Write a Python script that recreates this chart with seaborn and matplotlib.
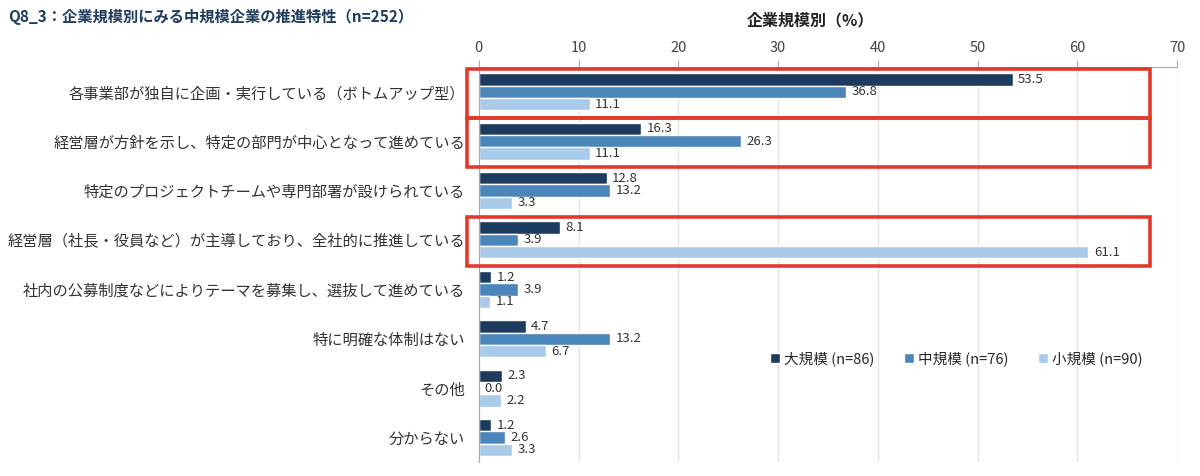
import pandas as pd
import matplotlib.pyplot as plt
import matplotlib.patches as patches
import matplotlib.transforms as mtransforms
import seaborn as sns

# データ
categories = [
    '各事業部が独自に企画・実行している（ボトムアップ型）',
    '経営層が方針を示し、特定の部門が中心となって進めている',
    '特定のプロジェクトチームや専門部署が設けられている',
    '経営層（社長・役員など）が主導しており、全社的に推進している',
    '社内の公募制度などによりテーマを募集し、選抜して進めている',
    '特に明確な体制はない',
    'その他',
    '分からない',
]
series_names = ['大規模 (n=86)', '中規模 (n=76)', '小規模 (n=90)']
large = [53.5, 16.3, 12.8, 8.1, 1.2, 4.7, 2.3, 1.2]
medium = [36.8, 26.3, 13.2, 3.9, 3.9, 13.2, 0.0, 2.6]
small = [11.1, 11.1, 3.3, 61.1, 1.1, 6.7, 2.2, 3.3]
highlight = [0, 1, 3]

colors = ['#1d3a5f', '#4b86bb', '#a9cbe9']

rows = []
for name, vals in zip(series_names, [large, medium, small]):
    for c, v in zip(categories, vals):
        rows.append({'項目': c, '規模': name, '値': v})
df = pd.DataFrame(rows)

sns.set_style('white')
plt.rcParams['font.family'] = ['Noto Sans CJK JP', 'DejaVu Sans']

fig = plt.figure(figsize=(12, 4.76), dpi=100)
ax = fig.add_axes([0.399, 0.029, 0.582, 0.83])

sns.barplot(data=df, y='項目', x='値', hue='規模', orient='h',
            palette=colors, width=0.75, gap=0.0, ax=ax, saturation=1)

for cont in ax.containers:
    ax.bar_label(cont, fmt='%.1f', padding=4, fontsize=9.5, color='#333333')

ax.set_xlim(0, 70)
ax.set_xticks(range(0, 71, 10))
ax.xaxis.tick_top()
ax.xaxis.set_label_position('top')
ax.set_xlabel('')
ax.set_ylabel('')
ax.tick_params(axis='x', labelsize=10.5, colors='#444444', length=5, color='#aaaaaa', pad=4)
ax.tick_params(axis='y', labelsize=11, labelcolor='#333333', length=0, pad=10)
ax.set_yticks([i + 0.5 for i in range(-1, len(categories))], minor=True)
ax.tick_params(axis='y', which='minor', length=5, color='#aaaaaa')
ax.grid(axis='x', color='#e3e3e3', linewidth=1)
ax.set_axisbelow(True)
for s in ['right', 'bottom']:
    ax.spines[s].set_visible(False)
for s in ['left', 'top']:
    ax.spines[s].set_color('#aaaaaa')

ax.legend(loc='lower right', bbox_to_anchor=(0.97, 0.21), ncol=3, frameon=False,
          fontsize=10.5, handlelength=0.7, handleheight=0.7, columnspacing=2.0,
          handletextpad=0.3)

# 赤枠
trans = mtransforms.blended_transform_factory(ax.transAxes, ax.transData)
for i in highlight:
    rect = patches.Rectangle((-0.017, i - 0.47), 0.978, 1.0, transform=trans,
                             fill=False, edgecolor='#e03a2c', linewidth=2.6,
                             clip_on=False, zorder=5)
    ax.add_patch(rect)

fig.text(0.007, 0.965, 'Q8_3：企業規模別にみる中規模企業の推進特性（n=252）',
         fontsize=11, fontweight='bold', color='#1f3b5e', va='center')
fig.text(0.675, 0.958, '企業規模別（%）', fontsize=11.5, fontweight='bold',
         color='#222222', ha='center', va='center')

plt.savefig('out.png', dpi=100)
